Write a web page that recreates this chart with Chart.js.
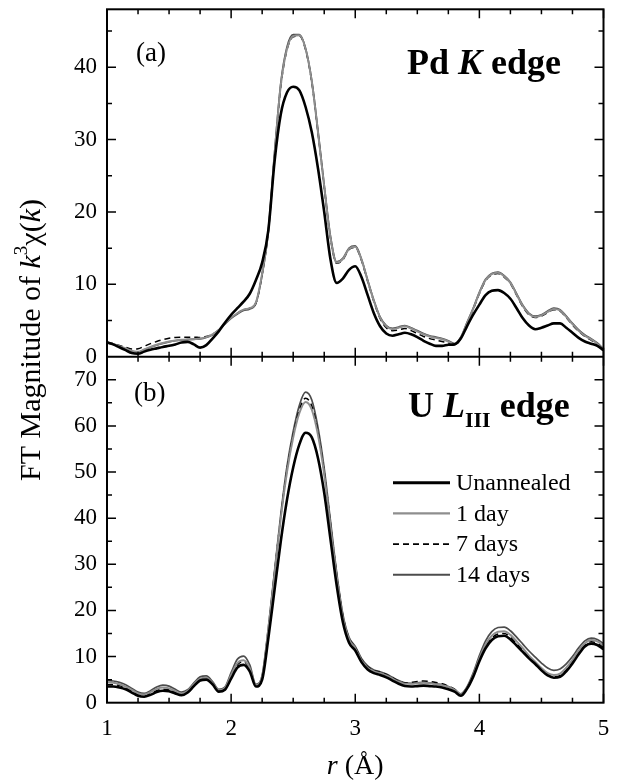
<!DOCTYPE html>
<html>
<head>
<meta charset="utf-8">
<script src="https://cdn.jsdelivr.net/npm/chart.js@4.4.1/dist/chart.umd.min.js"></script>
<style>
    body { margin: 0; background: #FFFFFF; }
    .chart-box { position: relative; width: 618px; height: 781px; }
</style>
</head>
<body>
<div class="chart-box"><canvas id="ft"></canvas></div>
<script>
// r (Angstrom) sample positions
var r = [1.00, 1.05, 1.10, 1.15, 1.20, 1.25, 1.30, 1.35, 1.40, 1.45,
    1.50, 1.55, 1.60, 1.65, 1.70, 1.75, 1.80, 1.85, 1.90, 1.95,
    2.00, 2.05, 2.10, 2.15, 2.20, 2.25, 2.30, 2.35, 2.40, 2.45,
    2.50, 2.55, 2.60, 2.65, 2.70, 2.75, 2.80, 2.85, 2.90, 2.95,
    3.00, 3.05, 3.10, 3.15, 3.20, 3.25, 3.30, 3.35, 3.40, 3.45,
    3.50, 3.55, 3.60, 3.65, 3.70, 3.75, 3.80, 3.85, 3.90, 3.95,
    4.00, 4.05, 4.10, 4.15, 4.20, 4.25, 4.30, 4.35, 4.40, 4.45,
    4.50, 4.55, 4.60, 4.65, 4.70, 4.75, 4.80, 4.85, 4.90, 4.95,
    5.00];

var seriesNames = ["Unannealed", "1 day", "7 days", "14 days"];

// (a) Pd K edge
var pdUnannealed = [2.0, 1.7, 1.3, 0.9, 0.5, 0.4, 0.7, 0.95, 1.15, 1.35,
    1.5, 1.7, 1.95, 2.05, 1.7, 1.25, 1.6, 2.5, 3.5, 4.7,
    5.8, 6.7, 7.6, 8.7, 10.6, 13.0, 17.5, 27.0, 33.5, 36.5,
    37.3, 36.8, 34.5, 31.0, 26.0, 20.0, 13.5, 10.2, 10.8, 12.0,
    12.5, 11.0, 8.5, 6.0, 4.2, 3.2, 2.9, 3.1, 3.3, 3.1,
    2.7, 2.2, 1.8, 1.5, 1.5, 1.65, 1.7, 2.5, 4.2, 5.8,
    7.2, 8.5, 9.1, 9.2, 8.8, 8.0, 6.7, 5.3, 4.3, 3.8,
    4.0, 4.3, 4.6, 4.6, 4.0, 3.3, 2.6, 2.1, 1.8, 1.5,
    0.9];
var pd1day = [1.95, 1.75, 1.45, 1.15, 0.8, 0.7, 1.0, 1.35, 1.65, 1.9,
    2.1, 2.25, 2.35, 2.4, 2.45, 2.5, 2.7, 3.1, 3.7, 4.6,
    5.4, 6.0, 6.5, 6.7, 7.5, 11.5, 17.5, 28.0, 37.5, 42.5,
    44.3, 44.4, 42.5, 38.0, 31.0, 23.5, 16.5, 13.0, 13.5, 14.9,
    15.2, 13.4, 10.5, 7.7, 5.4, 4.2, 3.8, 4.0, 4.2, 3.9,
    3.5, 3.1, 2.8, 2.6, 2.4, 2.1, 1.7, 2.6, 4.6, 6.6,
    8.8, 10.6, 11.4, 11.6, 11.1, 10.2, 8.6, 7.0, 5.9, 5.5,
    5.7, 6.2, 6.6, 6.4, 5.5, 4.5, 3.6, 2.9, 2.4, 1.8,
    1.0];
var pd7days = [1.95, 1.8, 1.55, 1.3, 1.05, 1.1, 1.45, 1.8, 2.1, 2.35,
    2.55, 2.65, 2.7, 2.7, 2.7, 2.65, 2.8, 3.1, 3.7, 4.6,
    5.4, 6.0, 6.5, 6.7, 7.4, 11.4, 17.4, 27.8, 37.3, 42.4,
    44.2, 44.3, 42.4, 37.9, 30.9, 23.4, 16.4, 12.9, 13.4, 14.8,
    15.1, 13.3, 10.4, 7.6, 5.3, 4.0, 3.6, 3.7, 3.9, 3.6,
    3.2, 2.8, 2.5, 2.3, 2.1, 1.9, 1.6, 2.5, 4.5, 6.5,
    8.7, 10.5, 11.3, 11.5, 11.0, 10.1, 8.5, 6.9, 5.8, 5.4,
    5.6, 6.1, 6.5, 6.3, 5.4, 4.4, 3.5, 2.8, 2.3, 1.7,
    1.0];
var pd14days = [1.9, 1.7, 1.4, 1.1, 0.75, 0.65, 0.95, 1.3, 1.6, 1.85,
    2.05, 2.2, 2.3, 2.35, 2.4, 2.45, 2.65, 3.0, 3.6, 4.5,
    5.3, 5.9, 6.4, 6.6, 7.4, 11.3, 17.3, 28.2, 37.8, 42.8,
    44.5, 44.5, 42.6, 38.1, 31.2, 23.7, 16.7, 13.1, 13.6, 15.0,
    15.3, 13.5, 10.6, 7.8, 5.5, 4.3, 3.9, 4.1, 4.3, 4.0,
    3.6, 3.2, 2.9, 2.7, 2.5, 2.2, 1.8, 2.7, 4.7, 6.7,
    8.9, 10.7, 11.5, 11.7, 11.2, 10.3, 8.7, 7.1, 6.0, 5.6,
    5.8, 6.3, 6.7, 6.5, 5.6, 4.6, 3.7, 3.0, 2.5, 1.9,
    1.1];

// (b) U LIII edge
var uUnannealed = [3.5, 3.5, 3.3, 2.9, 2.2, 1.5, 1.3, 1.7, 2.3, 2.6,
    2.5, 2.0, 1.6, 2.2, 3.6, 4.8, 5.0, 4.0, 2.4, 2.8,
    5.2, 7.6, 8.2, 6.8, 3.5, 5.0, 14.0, 24.5, 35.0, 44.0,
    51.0, 56.0, 58.5, 57.5, 53.0, 45.5, 35.5, 25.5, 17.5, 13.0,
    11.3, 8.8, 7.2, 6.4, 6.0, 5.5, 4.8, 4.1, 3.6, 3.5,
    3.6, 3.7, 3.6, 3.5, 3.3, 2.9, 2.4, 1.5, 3.0, 5.6,
    9.0, 11.8, 13.6, 14.4, 14.5, 13.7, 12.4, 11.0, 9.6, 8.4,
    7.0, 5.9, 5.4, 5.6, 6.8, 8.5, 10.5, 12.2, 12.8, 12.5,
    11.6];
var u1day = [4.4, 4.3, 4.0, 3.5, 2.8, 2.0, 1.8, 2.3, 3.0, 3.3,
    3.1, 2.5, 2.0, 2.6, 4.0, 5.2, 5.4, 4.3, 2.7, 3.2,
    6.0, 8.6, 9.2, 7.5, 3.8, 5.8, 16.0, 28.0, 40.0, 50.0,
    57.5, 62.8, 65.2, 63.5, 58.0, 49.5, 38.5, 27.5, 18.5, 13.8,
    11.8, 9.2, 7.6, 6.8, 6.4, 5.9, 5.2, 4.5, 4.1, 4.1,
    4.2, 4.3, 4.2, 4.0, 3.8, 3.4, 2.8, 1.8, 3.2, 6.0,
    9.6, 12.6, 14.5, 15.4, 15.5, 14.7, 13.3, 11.8, 10.2, 8.9,
    7.5, 6.4, 6.0, 6.3, 7.6, 9.3, 11.3, 12.9, 13.6, 13.3,
    12.4];
var u7days = [3.9, 3.9, 3.7, 3.2, 2.5, 1.7, 1.5, 2.0, 2.6, 2.9,
    2.8, 2.2, 1.8, 2.4, 3.8, 5.0, 5.2, 4.1, 2.5, 3.0,
    5.6, 8.2, 8.9, 7.2, 3.6, 5.7, 16.0, 28.2, 40.3, 50.5,
    58.0, 63.5, 66.0, 64.3, 58.6, 50.0, 39.0, 28.0, 19.0, 14.0,
    12.0, 9.4, 7.8, 7.0, 6.6, 6.1, 5.4, 4.7, 4.3, 4.4,
    4.6, 4.7, 4.6, 4.4, 4.1, 3.6, 2.9, 1.7, 3.1, 5.8,
    9.3, 12.2, 14.0, 14.9, 15.0, 14.2, 12.8, 11.4, 9.9, 8.6,
    7.2, 6.0, 5.6, 5.9, 7.1, 8.8, 10.8, 12.5, 13.2, 12.9,
    12.0];
var u14days = [4.8, 4.7, 4.4, 3.9, 3.1, 2.3, 2.0, 2.6, 3.4, 3.8,
    3.6, 2.9, 2.3, 2.8, 4.3, 5.6, 5.8, 4.6, 2.9, 3.4,
    6.5, 9.4, 10.1, 8.2, 4.0, 5.9, 16.3, 28.6, 40.8, 51.2,
    58.8, 64.5, 67.3, 65.6, 59.6, 50.8, 39.5, 28.3, 19.2, 14.2,
    12.2, 9.6, 8.0, 7.1, 6.7, 6.2, 5.5, 4.8, 4.3, 4.2,
    4.3, 4.4, 4.3, 4.1, 3.9, 3.5, 2.9, 1.9, 3.4, 6.4,
    10.2, 13.4, 15.4, 16.3, 16.4, 15.6, 14.2, 12.7, 11.2, 9.9,
    8.6, 7.5, 7.0, 7.3, 8.4, 10.0, 11.9, 13.4, 14.0, 13.7,
    12.8];

var SERIF = "'Liberation Serif', 'Times New Roman', serif";

var lineStyles = [
    { color: '#000000', width: 2.6, dash: [] },
    { color: '#8e8e8e', width: 2.0, dash: [] },
    { color: '#000000', width: 1.5, dash: [6, 4] },
    { color: '#4c4c4c', width: 1.7, dash: [] }
];

function makeSet(label, values, style, axis) {
    return {
        label: label,
        data: values.map((v, i) => ({ x: r[i], y: v })),
        yAxisID: axis,
        borderColor: style.color,
        backgroundColor: style.color,
        borderWidth: style.width,
        borderDash: style.dash,
        pointRadius: 0,
        fill: false,
        cubicInterpolationMode: 'monotone'
    };
}

var datasets = [];
[pdUnannealed, pd1day, pd7days, pd14days].forEach((vals, i) => {
    datasets.push(makeSet(seriesNames[i], vals, lineStyles[i], 'yTop'));
});
[uUnannealed, u1day, u7days, u14days].forEach((vals, i) => {
    datasets.push(makeSet(seriesNames[i], vals, lineStyles[i], 'yBot'));
});

// draws text made of pieces with different fonts, left to right
function richText(ctx, parts, x, y, align) {
    var total = 0;
    parts.forEach(p => { ctx.font = p.font; p.w = ctx.measureText(p.t).width; total += p.w; });
    var cx = align === 'center' ? x - total / 2 : (align === 'right' ? x - total : x);
    parts.forEach(p => {
        ctx.font = p.font;
        ctx.fillText(p.t, cx, y + (p.dy || 0));
        cx += p.w;
    });
}

var framePlugin = {
    id: 'frame',
    afterDatasetsDraw(chart) {
        var ctx = chart.ctx;
        var a = chart.chartArea;
        var xs = chart.scales.x;
        ctx.save();
        ctx.strokeStyle = '#000';
        ctx.lineWidth = 1.5;
        ctx.beginPath();
        [chart.scales.yTop, chart.scales.yBot].forEach(ys => {
            for (var i = 0; i <= 16; i++) {
                var len = i % 4 === 0 ? 9 : 5;
                var px = xs.getPixelForValue(1 + i * 0.25);
                ctx.moveTo(px, ys.top); ctx.lineTo(px, ys.top + len);
                ctx.moveTo(px, ys.bottom); ctx.lineTo(px, ys.bottom - len);
            }
            for (var v = 5; v < ys.max; v += 5) {
                var l2 = v % 10 === 0 ? 9 : 5;
                var py = ys.getPixelForValue(v);
                ctx.moveTo(a.left, py); ctx.lineTo(a.left + l2, py);
                ctx.moveTo(a.right, py); ctx.lineTo(a.right - l2, py);
            }
        });
        ctx.stroke();

        ctx.lineWidth = 2;
        ctx.strokeRect(a.left, a.top, a.right - a.left, a.bottom - a.top);
        ctx.beginPath();
        ctx.moveTo(a.left, chart.scales.yTop.bottom);
        ctx.lineTo(a.right, chart.scales.yTop.bottom);
        ctx.stroke();
        ctx.restore();
    },
    afterDraw(chart) {
        var ctx = chart.ctx;
        var a = chart.chartArea;
        var yTop = chart.scales.yTop;
        var yBot = chart.scales.yBot;
        ctx.save();
        ctx.fillStyle = '#000';
        ctx.textBaseline = 'alphabetic';

        // panel labels
        richText(ctx, [{ t: '(a)', font: '27px ' + SERIF }], a.left + 29, yTop.top + 52, 'left');
        richText(ctx, [
            { t: 'Pd ', font: 'bold 36px ' + SERIF },
            { t: 'K', font: 'italic bold 36px ' + SERIF },
            { t: ' edge', font: 'bold 36px ' + SERIF }
        ], a.left + 300, yTop.top + 65, 'left');
        richText(ctx, [{ t: '(b)', font: '27px ' + SERIF }], a.left + 27, yBot.top + 44, 'left');
        richText(ctx, [
            { t: 'U ', font: 'bold 36px ' + SERIF },
            { t: 'L', font: 'italic bold 36px ' + SERIF },
            { t: 'III', font: 'bold 22px ' + SERIF, dy: 10 },
            { t: ' edge', font: 'bold 36px ' + SERIF }
        ], a.left + 301, yBot.top + 60, 'left');

        // legend, bottom panel
        ctx.textBaseline = 'middle';
        for (var i = 0; i < seriesNames.length; i++) {
            var st = lineStyles[i];
            var ly = yBot.top + 126 + i * 30.7;
            ctx.strokeStyle = st.color;
            ctx.lineWidth = st.width + 0.3;
            ctx.setLineDash(st.dash);
            ctx.beginPath();
            ctx.moveTo(a.left + 286, ly);
            ctx.lineTo(a.left + 343, ly);
            ctx.stroke();
            ctx.setLineDash([]);
            richText(ctx, [{ t: seriesNames[i], font: '24px ' + SERIF }], a.left + 349, ly + 1, 'left');
        }

        // axis titles
        ctx.textBaseline = 'alphabetic';
        richText(ctx, [
            { t: 'r', font: 'italic 28px ' + SERIF },
            { t: ' (\u00C5)', font: '28px ' + SERIF }
        ], (a.left + a.right) / 2, 774, 'center');

        ctx.translate(39.5, 340);
        ctx.rotate(-Math.PI / 2);
        richText(ctx, [
            { t: 'FT Magnitude of ', font: '30px ' + SERIF },
            { t: 'k', font: 'italic 30px ' + SERIF },
            { t: '3', font: '19px ' + SERIF, dy: -13 },
            { t: '\u03C7(', font: '30px ' + SERIF },
            { t: 'k', font: 'italic 30px ' + SERIF },
            { t: ')', font: '30px ' + SERIF }
        ], 0, 0, 'center');
        ctx.restore();
    }
};

var tickFont = { family: SERIF, size: 23 };

// fixed axis boxes so the plot frame lands where the original has it
function fixY(s) {
    s.width = 107;
    s.paddingTop = 0;
    s.paddingBottom = 0;
}
function fixX(s) {
    s.height = 78.3;
    s.paddingLeft = 0;
    s.paddingRight = 0;
}

new Chart(document.getElementById('ft'), {
    type: 'line',
    data: { datasets: datasets },
    options: {
        responsive: true,
        maintainAspectRatio: false,
        animation: false,
        layout: { padding: { left: 0, right: 14.5, top: 9.3, bottom: 0 } },
        plugins: { legend: { display: false }, tooltip: { enabled: false } },
        scales: {
            x: {
                type: 'linear',
                min: 1,
                max: 5,
                grid: { display: false, drawTicks: false },
                border: { display: false },
                ticks: { stepSize: 1, font: tickFont, color: '#000', padding: 12, includeBounds: false, autoSkip: false, maxRotation: 0 },
                afterFit: fixX
            },
            yBot: {
                type: 'linear',
                position: 'left',
                stack: 'panels',
                stackWeight: 346,
                min: 0,
                max: 75,
                grid: { display: false, drawTicks: false },
                border: { display: false },
                ticks: { stepSize: 10, font: tickFont, color: '#000', padding: 10, includeBounds: false, autoSkip: false },
                afterFit: fixY
            },
            yTop: {
                type: 'linear',
                position: 'left',
                stack: 'panels',
                stackWeight: 347.4,
                min: 0,
                max: 48,
                grid: { display: false, drawTicks: false },
                border: { display: false },
                ticks: { stepSize: 10, font: tickFont, color: '#000', padding: 10, includeBounds: false, autoSkip: false },
                afterFit: fixY
            }
        }
    },
    plugins: [framePlugin]
});
</script>
</body>
</html>
